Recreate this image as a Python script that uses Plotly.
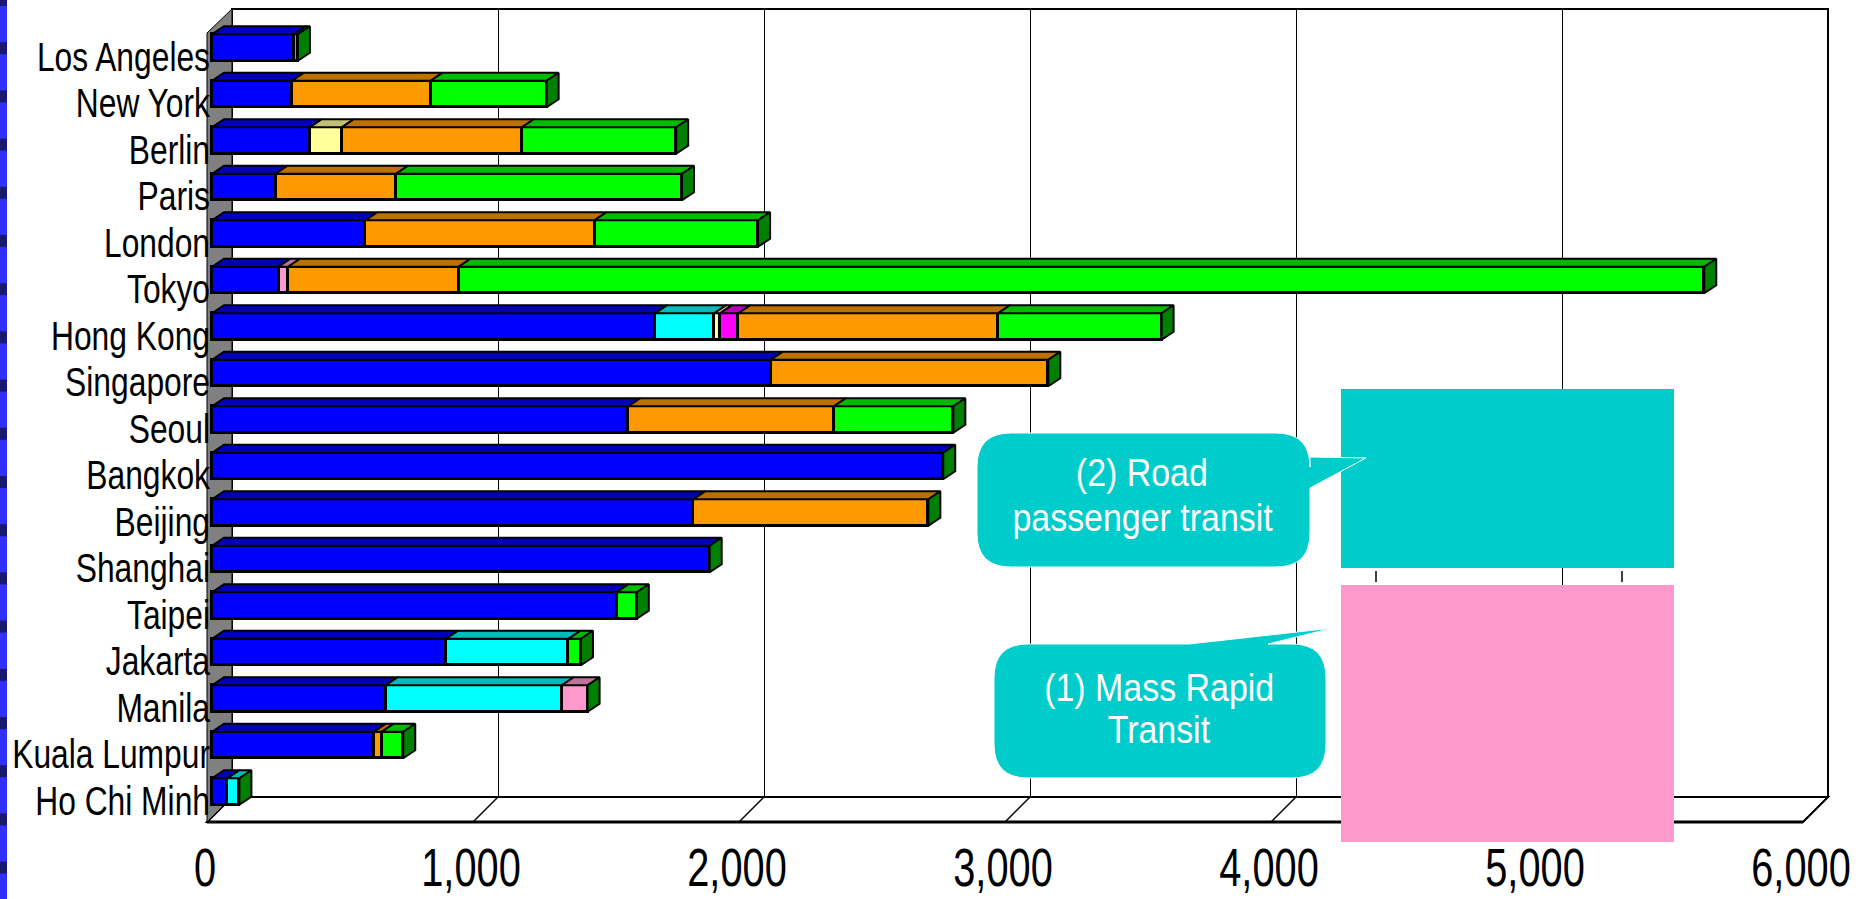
import plotly.graph_objects as go

# ---- data -------------------------------------------------------------
cities = ["Los Angeles", "New York", "Berlin", "Paris", "London", "Tokyo",
          "Hong Kong", "Singapore", "Seoul", "Bangkok", "Beijing", "Shanghai",
          "Taipei", "Jakarta", "Manila", "Kuala Lumpur", "Ho Chi Minh"]

bus         = [308, 301, 368, 239, 577, 250, 1666, 2101, 1565, 2749, 1810, 1871, 1521, 880, 653, 609, 58]
paratransit = [0, 0, 0, 0, 0, 0, 222, 0, 0, 0, 0, 0, 0, 460, 662, 0, 45]
tram        = [0, 0, 120, 0, 0, 0, 22, 0, 0, 0, 0, 0, 0, 0, 0, 0, 0]
light_rail  = [0, 0, 0, 0, 0, 36, 0, 0, 0, 0, 0, 0, 0, 0, 97, 0, 0]
other_rail  = [0, 0, 0, 0, 0, 0, 69, 0, 0, 0, 0, 0, 0, 0, 0, 0, 0]
metro       = [0, 521, 677, 453, 861, 641, 976, 1043, 773, 0, 883, 0, 0, 0, 0, 29, 0]
suburban    = [15, 436, 580, 1075, 615, 4683, 615, 0, 449, 0, 0, 0, 76, 47, 0, 81, 0]

tick_values = [0, 1000, 2000, 3000, 4000, 5000, 6000]

# (name, values, front colour, top colour)
series = [
    ("Bus", bus, "#0000FF", "#0000BB"),
    ("Paratransit", paratransit, "#00FFFF", "#00BBBB"),
    ("Tram", tram, "#FFFF99", "#C0C078"),
    ("Light rail", light_rail, "#FF99CC", "#C07399"),
    ("Other rail", other_rail, "#FF00FF", "#BB00BB"),
    ("Metro", metro, "#FF9900", "#BB7000"),
    ("Suburban rail", suburban, "#00FF00", "#00BB00"),
]
SIDE_COLOR = "#008000"

# ---- geometry (pixels) -------------------------------------------------
W, H = 1872, 899
K = 0.266               # pixels per unit along the value axis
BAR_X0 = 212            # pixel of value 0 on the bar front plane
ROW0, ROW_STEP = 47.5, 46.5
X_LO = -BAR_X0 / K
X_HI = X_LO + W / K
Y_TOP = -ROW0 / ROW_STEP
Y_BOT = Y_TOP + H / ROW_STEP

BAR_W = 0.57
DX = 12 / K             # bar depth, value units
DY = 8 / ROW_STEP       # bar depth, category units

# chart box: front plane / back plane
FX0, FY_TOP, FY_BOT = 207, 33, 822
BX0, BY_TOP, BY_BOT = 232, 9, 797
FX_END = FX0 + K * tick_values[-1]
BX_END = BX0 + K * tick_values[-1]

FONT = "Liberation Sans, Arial, sans-serif"


def px(x):
    return x / W


def py(y):
    return 1 - y / H


def poly(points):
    return "M " + " L ".join(f"{px(x):.5f},{py(y):.5f}" for x, y in points) + " Z"


fig = go.Figure()

# front faces of the stacked bars
for name, vals, col, _ in series:
    fig.add_trace(go.Bar(
        y=list(range(len(cities))), x=[v if v else None for v in vals],
        orientation="h", width=BAR_W, name=name,
        marker=dict(color=col, line=dict(color="black", width=3)),
        hoverinfo="skip", showlegend=False))

# top faces
starts = [0] * len(cities)
for name, vals, _, top in series:
    xs, ys = [], []
    for i, v in enumerate(vals):
        if v:
            x0, x1 = starts[i], starts[i] + v
            yt = i - BAR_W / 2
            xs += [x0, x1, x1 + DX, x0 + DX, x0, None]
            ys += [yt, yt, yt - DY, yt - DY, yt, None]
            starts[i] = x1
    fig.add_trace(go.Scatter(x=xs, y=ys, mode="lines", fill="toself",
                             fillcolor=top, line=dict(color="black", width=2),
                             hoverinfo="skip", showlegend=False))

# right-hand end faces
xs, ys = [], []
for i, end in enumerate(starts):
    yt, yb = i - BAR_W / 2, i + BAR_W / 2
    xs += [end, end + DX, end + DX, end, end, None]
    ys += [yt, yt - DY, yb - DY, yb, yt, None]
fig.add_trace(go.Scatter(x=xs, y=ys, mode="lines", fill="toself",
                         fillcolor=SIDE_COLOR, line=dict(color="black", width=2),
                         hoverinfo="skip", showlegend=False))

shapes = []
# back wall
shapes.append(dict(type="path", path=poly([(BX0, BY_TOP), (BX_END, BY_TOP), (BX_END, BY_BOT), (BX0, BY_BOT)]),
                   xref="paper", yref="paper", fillcolor="white",
                   line=dict(color="black", width=2), layer="below"))
# gridlines on the back wall
for v in tick_values[1:-1]:
    gx = round(BX0 + K * v) + 0.5
    shapes.append(dict(type="line", xref="paper", yref="paper",
                       x0=px(gx), x1=px(gx), y0=py(BY_TOP), y1=py(BY_BOT),
                       line=dict(color="black", width=1), layer="below"))
# floor
shapes.append(dict(type="path", path=poly([(FX0, FY_BOT), (FX_END, FY_BOT), (BX_END, BY_BOT), (BX0, BY_BOT)]),
                   xref="paper", yref="paper", fillcolor="white",
                   line=dict(color="black", width=2), layer="below"))
shapes.append(dict(type="line", xref="paper", yref="paper",
                   x0=px(FX0), x1=px(FX_END), y0=py(FY_BOT), y1=py(FY_BOT),
                   line=dict(color="black", width=3), layer="below"))
for v in tick_values:
    shapes.append(dict(type="line", xref="paper", yref="paper",
                       x0=px(BX0 + K * v), x1=px(FX0 + K * v), y0=py(BY_BOT), y1=py(FY_BOT),
                       line=dict(color="black", width=1.5), layer="below"))
# left side wall
shapes.append(dict(type="path", path=poly([(FX0, FY_TOP), (BX0, BY_TOP), (BX0, BY_BOT), (FX0, FY_BOT)]),
                   xref="paper", yref="paper", fillcolor="#808080",
                   line=dict(color="black", width=1), layer="below"))

# slide edge strip on the far left
shapes.append(dict(type="rect", xref="paper", yref="paper", x0=0, x1=px(7), y0=0, y1=1,
                   fillcolor="#3030F8", line=dict(width=0), layer="above"))
k = 0
while -6 + 48.2 * k < H:
    y0 = -6 + 48.2 * k
    shapes.append(dict(type="rect", xref="paper", yref="paper", x0=0, x1=px(7),
                       y0=py(min(y0 + 12, H)), y1=py(max(y0, 0)),
                       fillcolor="#191970", line=dict(width=0), layer="above"))
    k += 1

# coloured panels on the right
shapes.append(dict(type="rect", xref="paper", yref="paper", x0=px(1341), x1=px(1674),
                   y0=py(568), y1=py(389), fillcolor="#00CCCC", line=dict(width=0), layer="above"))
shapes.append(dict(type="rect", xref="paper", yref="paper", x0=px(1341), x1=px(1674),
                   y0=py(842), y1=py(585), fillcolor="#FF99CC", line=dict(width=0), layer="above"))
for tx in (1376, 1622):
    shapes.append(dict(type="line", xref="paper", yref="paper", x0=px(tx), x1=px(tx),
                       y0=py(582), y1=py(571), line=dict(color="black", width=1.5), layer="above"))


def bubble(x0, y0, x1, y1, r, tail):
    """Rounded callout box; tail = points inserted on the given edge."""
    side, pts = tail

    def P(x, y):
        return f"{px(x):.5f},{py(y):.5f}"
    d = [f"M {P(x0 + r, y0)}"]
    if side == "top":
        d += [f"L {P(x, y)}" for x, y in pts]
    d += [f"L {P(x1 - r, y0)}", f"Q {P(x1, y0)} {P(x1, y0 + r)}"]
    if side == "right":
        d += [f"L {P(x, y)}" for x, y in pts]
    d += [f"L {P(x1, y1 - r)}", f"Q {P(x1, y1)} {P(x1 - r, y1)}",
          f"L {P(x0 + r, y1)}", f"Q {P(x0, y1)} {P(x0, y1 - r)}",
          f"L {P(x0, y0 + r)}", f"Q {P(x0, y0)} {P(x0 + r, y0)}", "Z"]
    return " ".join(d)


shapes.append(dict(type="path", xref="paper", yref="paper", layer="above",
                   path=bubble(977, 433, 1310, 567, 34,
                               ("right", [(1310, 457), (1366, 458), (1310, 488)])),
                   fillcolor="#00CCCC", line=dict(color="white", width=1)))
shapes.append(dict(type="path", xref="paper", yref="paper", layer="above",
                   path=bubble(994, 644, 1326, 778, 34,
                               ("top", [(1189, 644), (1333, 628), (1268, 644)])),
                   fillcolor="#00CCCC", line=dict(color="white", width=1)))

annotations = []
for text, cx, cy in [("(2) Road", 1142, 472), ("passenger transit", 1142, 517),
                     ("(1) Mass Rapid", 1159, 687), ("Transit", 1159, 729)]:
    annotations.append(dict(text=text, x=px(cx), y=py(cy), xref="paper", yref="paper",
                            showarrow=False, xanchor="center", yanchor="middle",
                            font=dict(family=FONT, size=39, color="white")))

fig.update_layout(
    width=W, height=H, autosize=False,
    margin=dict(l=0, r=0, t=0, b=0, pad=0, autoexpand=False),
    paper_bgcolor="white", plot_bgcolor="white",
    barmode="stack", bargap=0,
    shapes=shapes, annotations=annotations,
    xaxis=dict(domain=[0, 1], range=[X_LO, X_HI], anchor="free", position=py(832),
               automargin=False,
               showgrid=False, zeroline=False, showline=False, ticks="",
               tickvals=tick_values, tickformat=",d",
               tickfont=dict(family=FONT, size=53, color="black"),
               ticklabelshift=-7, ticklabelstandoff=0, fixedrange=True),
    yaxis=dict(domain=[0, 1], range=[Y_BOT, Y_TOP], anchor="free", position=px(210),
               automargin=False,
               showgrid=False, zeroline=False, showline=False, ticks="",
               tickvals=list(range(len(cities))), ticktext=cities,
               tickfont=dict(family=FONT, size=41, color="black"),
               ticklabelshift=-9, ticklabelstandoff=0, fixedrange=True),
)

# narrow the lettering (condensed face look) once the plot is drawn
condense = """
var gd = document.getElementById('{plot_id}');
function squeeze(sel, f) {
  gd.querySelectorAll(sel).forEach(function (t) {
    var w = t.getComputedTextLength();
    t.setAttribute('lengthAdjust', 'spacingAndGlyphs');
    t.setAttribute('textLength', (w * f).toFixed(1));
  });
}
squeeze('.xtick text', 0.75);
squeeze('.ytick text', 0.775);
squeeze('.annotation-text', 0.87);
"""

fig.write_html("out.html", post_script=condense)
